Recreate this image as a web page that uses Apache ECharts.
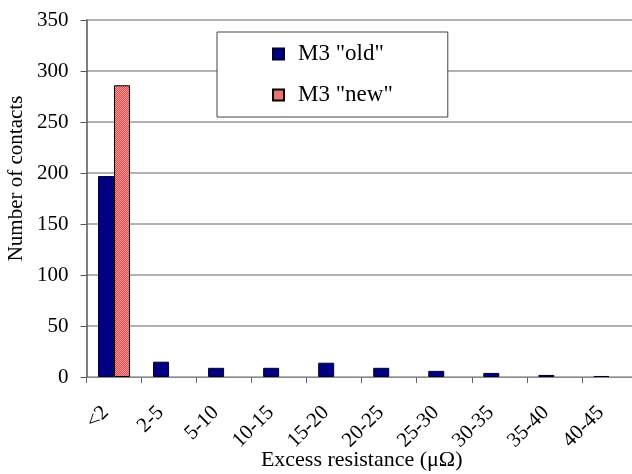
<!DOCTYPE html>
<html>
<head>
<meta charset="utf-8">
<script src="https://cdn.jsdelivr.net/npm/echarts@6/dist/echarts.min.js"></script>
<style>html,body{margin:0;padding:0;background:#fff}#c{width:632px;height:474px}</style>
</head>
<body>
<div id="c"></div>
<script>
var categories = ['<2','2-5','5-10','10-15','15-20','20-25','25-30','30-35','35-40','40-45'];
var oldValues = [197, 15, 9, 9, 14, 9, 6, 4, 2, 1];
var newValues = [286, 0, 0, 0, 0, 0, 0, 0, 0, 0];
var seriesNames = ['M3 "old"', 'M3 "new"'];

var pc = document.createElement('canvas');
pc.width = 2; pc.height = 2;
var px = pc.getContext('2d');
px.fillStyle = '#e24c4c'; px.fillRect(0,0,2,2);
px.fillStyle = '#f29a9a'; px.fillRect(0,0,1,1); px.fillRect(1,1,1,1);

function hideZero(arr) { return arr.map(function (v) { return v === 0 ? '-' : v; }); }

var font = '"Liberation Serif", "Times New Roman", serif';
var chart = echarts.init(document.getElementById('c'), null, {renderer:'canvas'});
chart.setOption({
  animation: false,
  backgroundColor: '#fff',
  grid: {left: 86.5, top: 20, width: 550.4, height: 357, containLabel: false, outerBoundsMode: 'none'},
  legend: {
    orient: 'vertical', left: 217, top: 32,
    padding: [10, 55, 10, 55],
    itemWidth: 11, itemHeight: 11, itemGap: 17,
    backgroundColor: '#fff', borderColor: '#444', borderWidth: 1,
    textStyle: {fontFamily: font, fontSize: 23, color: '#000', lineHeight: 24, padding: [0, 0, 0, 9]},
    data: [{name: seriesNames[0], icon: 'rect'}, {name: seriesNames[1], icon: 'rect'}]
  },
  xAxis: {
    type: 'category', data: categories,
    name: 'Excess resistance (\u03bc\u03a9)', nameLocation: 'middle', nameGap: 72, nameMoveOverlap: false,
    nameTextStyle: {fontFamily: font, fontSize: 22, color: '#000'},
    axisLine: {lineStyle: {color: '#888', width: 1}},
    axisTick: {show: true, alignWithLabel: false, length: 6, lineStyle: {color: '#666'}},
    axisLabel: {rotate: 45, margin: 24, fontFamily: font, fontSize: 21, color: '#000', interval: 0, padding: [0, 12, 0, 0]}
  },
  yAxis: {
    type: 'value', min: 0, max: 350, interval: 50,
    name: 'Number of contacts', nameLocation: 'middle', nameGap: 60, nameMoveOverlap: false,
    nameTextStyle: {fontFamily: font, fontSize: 21, color: '#000', padding: [0, 0, 0, 40]},
    axisLine: {show: true, lineStyle: {color: '#555', width: 1.5}},
    axisTick: {show: true, length: 6, lineStyle: {color: '#555'}},
    axisLabel: {margin: 18, fontFamily: font, fontSize: 21, color: '#000'},
    splitLine: {lineStyle: {color: '#9a9a9a', width: 1.5}}
  },
  series: [
    {name: seriesNames[0], type: 'bar', data: hideZero(oldValues), barWidth: 16, barGap: '0%',
     itemStyle: {color: '#000080', borderColor: '#000030', borderWidth: 1}},
    {name: seriesNames[1], type: 'bar', data: hideZero(newValues), barWidth: 16,
     itemStyle: {color: {image: pc, repeat: 'repeat'}, borderColor: '#000', borderWidth: 1}}
  ]
});
</script>
</body>
</html>
